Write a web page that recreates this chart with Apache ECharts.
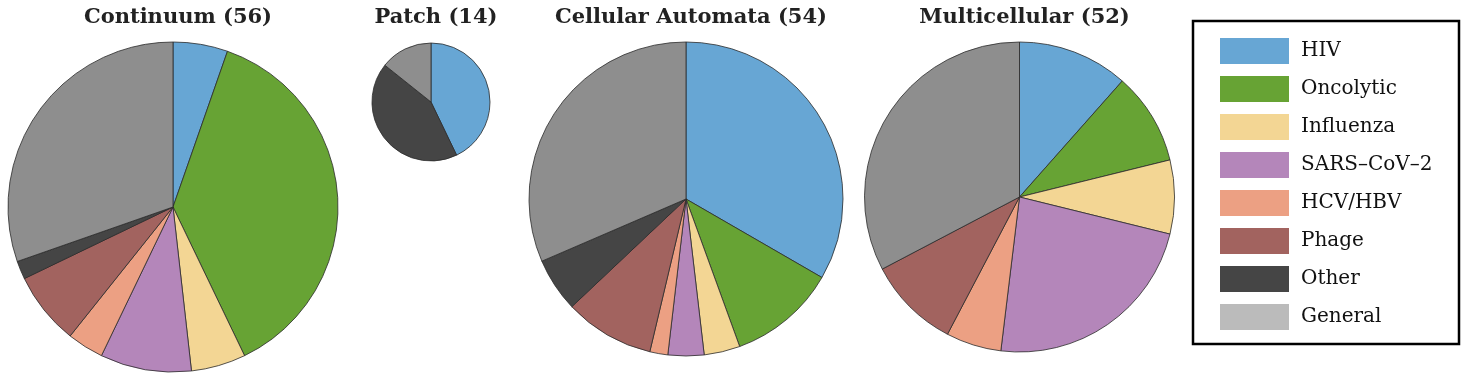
<!DOCTYPE html>
<html>
<head>
<meta charset="utf-8">
<script src="https://cdn.jsdelivr.net/npm/echarts@6/dist/echarts.min.js"></script>
<style>
  html, body { margin: 0; padding: 0; background: #fff; }
  #chart { width: 1469px; height: 380px; }
</style>
</head>
<body>
<div id="chart"></div>
<script>
// categories (legend order, also slice order clockwise from 12 o'clock)
var categories = ['HIV', 'Oncolytic', 'Influenza', 'SARS\u2013CoV\u20132', 'HCV/HBV', 'Phage', 'Other', 'General'];
var colors = ['#67a6d4', '#67a334', '#f3d694', '#b486ba', '#eca083', '#a2635f', '#454545', '#8e8e8e'];
var legendGeneral = '#bbbbbb';

// model counts per category
var continuum = [3, 21, 3, 5, 2, 4, 1, 17];
var patch = [6, 0, 0, 0, 0, 0, 6, 2];
var cellular = [18, 6, 2, 2, 1, 5, 3, 17];
var multicellular = [6, 5, 4, 12, 3, 5, 0, 17];

var groups = ['Continuum', 'Patch', 'Cellular Automata', 'Multicellular'];
var groupData = [continuum, patch, cellular, multicellular];

// layout of each pie
var centers = [[173, 207], [431, 102], [686, 199], [1019.5, 197]];
var radii = [165, 59, 157, 155];

var chart = echarts.init(document.getElementById('chart'));

function sum(a) { var s = 0; for (var i = 0; i < a.length; i++) s += a[i]; return s; }

var series = [], titles = [];
for (var g = 0; g < groups.length; g++) {
	var d = [];
	for (var i = 0; i < categories.length; i++) {
		if (groupData[g][i] > 0) {
			d.push({ name: categories[i], value: groupData[g][i], itemStyle: { color: colors[i] } });
		}
	}
	series.push({
		name: groups[g],
		type: 'pie',
		center: centers[g],
		radius: radii[g],
		startAngle: 90,
		clockwise: true,
		animation: false,
		label: { show: false },
		labelLine: { show: false },
		emphasis: { disabled: true },
		itemStyle: { borderColor: '#2b2b2b', borderWidth: 0.8 },
		data: d
	});
	titles.push({
		text: groups[g] + ' (' + sum(groupData[g]) + ')',
		left: centers[g][0],
		top: 2,
		textAlign: 'center',
		textStyle: { fontFamily: 'DejaVu Serif', fontWeight: 'bold', fontSize: 21, color: '#222' }
	});
}

var legendData = [];
for (var i = 0; i < categories.length; i++) {
	legendData.push({ name: categories[i], itemStyle: { color: i == 7 ? legendGeneral : colors[i], borderWidth: 0 } });
}

var option = {
	backgroundColor: '#fff',
	title: titles,
	legend: {
		orient: 'vertical',
		left: 1215,
		top: 33,
		icon: 'rect',
		itemWidth: 69,
		itemHeight: 26,
		itemGap: 12,
		selectedMode: false,
		data: legendData,
		textStyle: { fontFamily: 'DejaVu Serif', fontSize: 20, color: '#111', padding: [0, 0, 0, 7] }
	},
	graphic: [{
		type: 'rect',
		shape: { x: 1193, y: 21, width: 266, height: 323 },
		style: { fill: 'none', stroke: '#000', lineWidth: 2.5 }
	}],
	series: series
};

chart.setOption(option);
</script>
</body>
</html>
